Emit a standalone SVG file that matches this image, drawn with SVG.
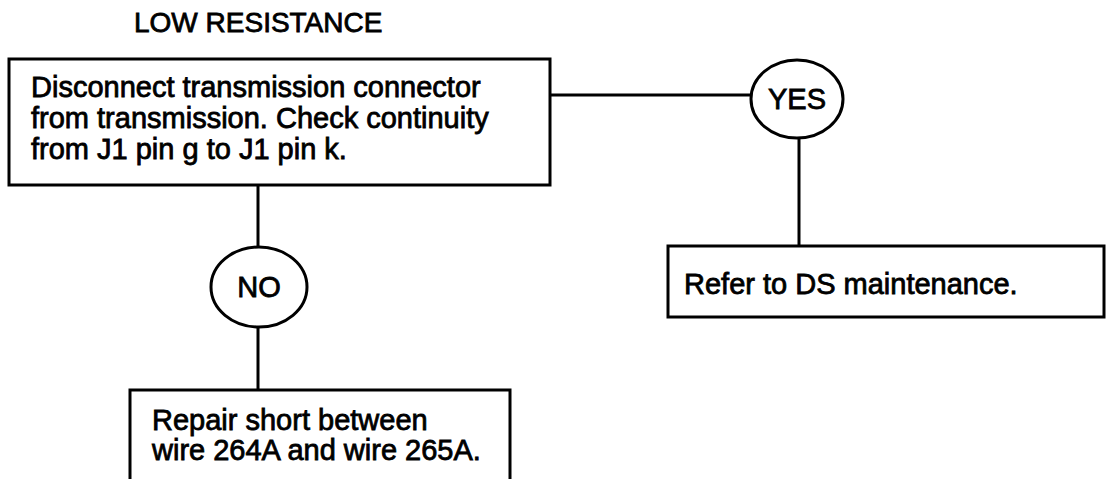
<svg xmlns="http://www.w3.org/2000/svg" width="1112" height="479" viewBox="0 0 1112 479">
<style>
.box{fill:#fff;stroke:#000;stroke-width:3}
.ell{fill:#fff;stroke:#000;stroke-width:3}
.ln{stroke:#000;stroke-width:3;fill:none}
.t{font-family:"Liberation Sans",Arial,sans-serif;font-size:29px;fill:#000;stroke:#000;stroke-width:0.8}
.c{text-anchor:middle}
</style>
<rect width="1112" height="479" fill="#fff"/>
<text id="title" class="t" x="134" y="32" style="font-size:28px">LOW RESISTANCE</text>
<g id="connectors">
<line class="ln" x1="550" y1="95" x2="752" y2="95"/>
<line class="ln" x1="799" y1="138" x2="799" y2="246"/>
<line class="ln" x1="258" y1="185" x2="258" y2="247"/>
<line class="ln" x1="258" y1="327" x2="258" y2="390"/>
</g>
<g id="n1">
<rect class="box" x="9" y="59" width="541" height="126"/>
<text class="t" x="31" y="97">Disconnect transmission connector</text>
<text class="t" x="31" y="128">from transmission. Check continuity</text>
<text class="t" x="31" y="159">from J1 pin g to J1 pin k.</text>
</g>
<g id="yes">
<ellipse class="ell" cx="797" cy="99" rx="46" ry="39"/>
<text class="t c" x="797" y="109">YES</text>
</g>
<g id="no">
<ellipse class="ell" cx="259" cy="287" rx="48" ry="40"/>
<text class="t c" x="259" y="297">NO</text>
</g>
<g id="n2">
<rect class="box" x="668" y="246" width="436" height="71"/>
<text class="t" x="684" y="294">Refer to DS maintenance.</text>
</g>
<g id="n3">
<rect class="box" x="130" y="390" width="380" height="100"/>
<text class="t" x="152" y="430">Repair short between</text>
<text class="t" x="152" y="460">wire 264A and wire 265A.</text>
</g>
</svg>
